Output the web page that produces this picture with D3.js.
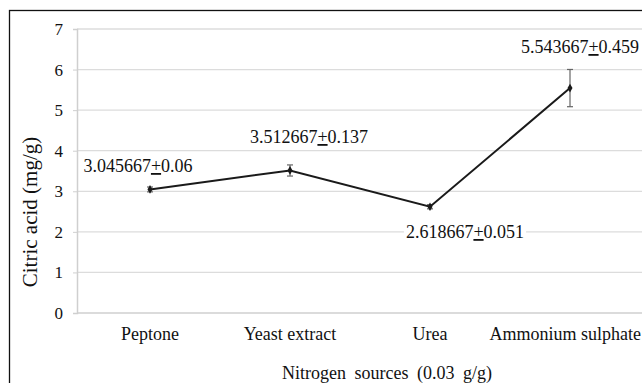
<!DOCTYPE html>
<html>
<head>
<meta charset="utf-8">
<script src="https://cdn.jsdelivr.net/npm/d3@7"></script>
<style>
  html, body { margin: 0; padding: 0; background: #fff; }
  svg { display: block; }
</style>
</head>
<body>
<svg id="chart" width="642" height="383" font-family="Liberation Serif, DejaVu Serif, serif"></svg>
<script>
// Citric acid yield by nitrogen source
const categories = ["Peptone", "Yeast extract", "Urea", "Ammonium sulphate"];
const means = [3.045667, 3.512667, 2.618667, 5.543667];
const errors = [0.06, 0.137, 0.051, 0.459];
const yTicks = [0, 1, 2, 3, 4, 5, 6, 7];
// label text: mean, then "±" printed as an underlined plus, then SD
const labelMeans = ["3.045667", "3.512667", "2.618667", "5.543667"];
const labelErrs = ["0.06", "0.137", "0.051", "0.459"];

const FONT = "Liberation Serif, DejaVu Serif, serif";
const W = 642;
const svg = d3.select("#chart");

// outer frame (runs off the right and bottom edges)
svg.append("rect")
  .attr("x", 9.5).attr("y", 10.5)
  .attr("width", 700).attr("height", 400)
  .attr("fill", "none").attr("stroke", "#111").attr("stroke-width", 1.3);

const x = d3.scaleBand().domain(categories).range([80, 640]);
const y = d3.scaleLinear().domain([0, 7]).range([313, 29]);

// gridlines
svg.append("g").selectAll("line").data(yTicks.filter(d => d > 0)).join("line")
  .attr("x1", 77).attr("x2", W)
  .attr("y1", d => y(d)).attr("y2", d => y(d))
  .attr("stroke", "#dcdcdc").attr("stroke-width", 1.3);

// y axis
const yAxis = svg.append("g").attr("transform", "translate(77,0)")
  .call(d3.axisLeft(y).tickValues(yTicks).tickSize(4).tickPadding(10).tickFormat(d3.format("d")));
yAxis.attr("font-family", FONT).attr("font-size", 17);
yAxis.select(".domain").attr("stroke", "#cfcfcf").attr("stroke-width", 1.5);
yAxis.selectAll(".tick line").attr("stroke", "#cfcfcf");
yAxis.selectAll(".tick text").attr("fill", "#111");

// x baseline
svg.append("line").attr("x1", 77).attr("x2", W).attr("y1", y(0)).attr("y2", y(0))
  .attr("stroke", "#cfcfcf").attr("stroke-width", 1.5);

// category labels, kept inside the right edge
svg.append("g").selectAll("text").data(categories).join("text")
  .attr("x", d => x(d) + x.bandwidth() / 2).attr("y", 340)
  .attr("text-anchor", "middle").attr("font-size", 18).attr("fill", "#111").text(d => d)
  .each(function () {
    const b = this.getBBox();
    const over = b.x + b.width - (W - 1);
    if (over > 0) d3.select(this).attr("x", +this.getAttribute("x") - over);
  });

// axis titles
svg.append("text").attr("x", 387).attr("y", 379).attr("text-anchor", "middle")
  .attr("font-size", 18).attr("word-spacing", 4).attr("fill", "#111").text("Nitrogen sources (0.03 g/g)");
svg.append("text").attr("transform", "translate(37,212) rotate(-90)")
  .attr("text-anchor", "middle").attr("font-size", 21).attr("fill", "#111").text("Citric acid (mg/g)");

const cx = i => x(categories[i]) + x.bandwidth() / 2;

// error bars
const eb = svg.append("g").attr("stroke", "#666").attr("stroke-width", 1.2);
means.forEach((m, i) => {
  eb.append("line").attr("x1", cx(i)).attr("x2", cx(i))
    .attr("y1", y(m - errors[i])).attr("y2", y(m + errors[i]));
  [m - errors[i], m + errors[i]].forEach(v => {
    eb.append("line").attr("x1", cx(i) - 3).attr("x2", cx(i) + 3)
      .attr("y1", y(v)).attr("y2", y(v));
  });
});

// line
svg.append("path").datum(means)
  .attr("d", d3.line().x((d, i) => cx(i)).y(d => y(d)))
  .attr("fill", "none").attr("stroke", "#1a1a1a").attr("stroke-width", 2);

// markers
svg.append("g").selectAll("path").data(means).join("path")
  .attr("transform", (d, i) => `translate(${cx(i)},${y(d)})`)
  .attr("d", d3.symbol(d3.symbolDiamond, 22))
  .attr("fill", "#1a1a1a");

// value labels on white boxes
const labelPos = [
  { dx: -12, y: 172 },
  { dx: 19, y: 143 },
  { dx: 35, y: 238 },
  { dx: 10, y: 53 }
];
means.forEach((m, i) => {
  const g = svg.append("g");
  const bg = g.append("rect").attr("fill", "#fff");
  const t = g.append("text")
    .attr("x", cx(i) + labelPos[i].dx).attr("y", labelPos[i].y)
    .attr("text-anchor", "middle").attr("font-size", 18).attr("fill", "#111");
  t.append("tspan").text(labelMeans[i]);
  t.append("tspan").attr("text-decoration", "underline").text("+");
  t.append("tspan").text(labelErrs[i]);
  const b = t.node().getBBox();
  bg.attr("x", b.x - 2).attr("y", b.y).attr("width", b.width + 4).attr("height", b.height);
});
</script>
</body>
</html>
